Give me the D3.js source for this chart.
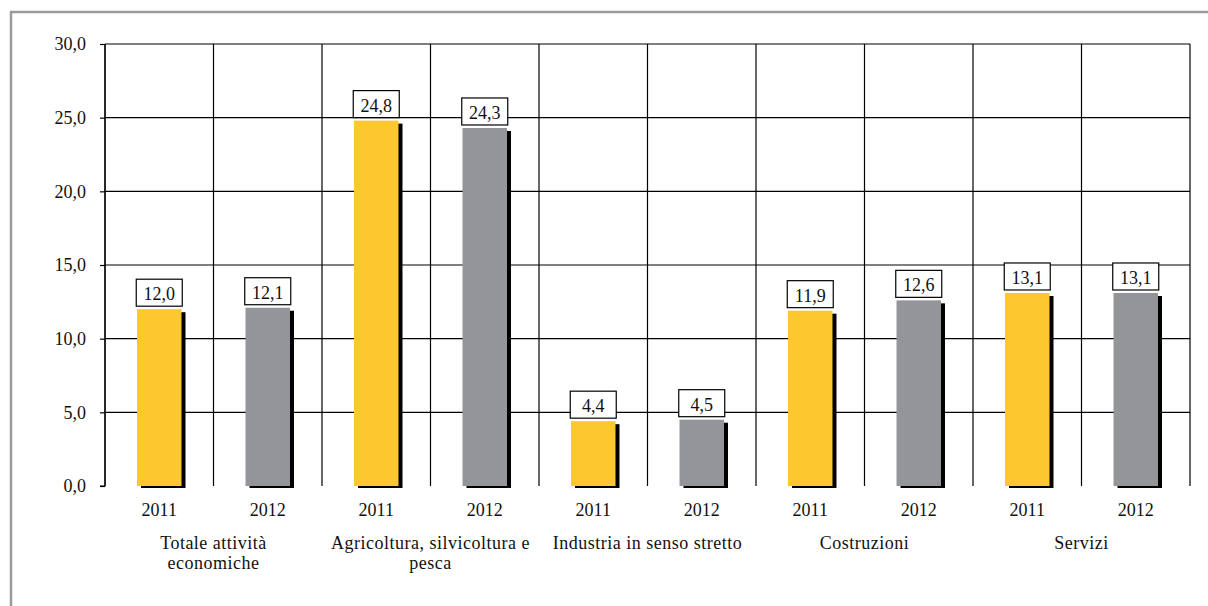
<!DOCTYPE html>
<html><head><meta charset="utf-8">
<script src="https://cdn.jsdelivr.net/npm/d3@7"></script>
<style>
body{margin:0;background:#fff;}
svg{display:block;}
</style></head>
<body><svg id="chart" width="1208" height="606"></svg>
<script>
const categories = [["Totale attività","economiche"],["Agricoltura, silvicoltura e","pesca"],["Industria in senso stretto"],["Costruzioni"],["Servizi"]];
const years = ["2011","2012"];
const values2011 = [12.0, 24.8, 4.4, 11.9, 13.1];
const values2012 = [12.1, 24.3, 4.5, 12.6, 13.1];
const yTicks = [0,5,10,15,20,25,30];
const colors = {"2011":"#FDC82F","2012":"#939598"};
const FONT = "'Liberation Serif', serif";

const svg = d3.select("#chart");
const m = {left:105, right:1190, top:44, bottom:486};

// outer frame
svg.append("path").attr("d","M11,606 V12 H1208").attr("fill","none").attr("stroke","#9a9a9a").attr("stroke-width",2.5);

const data = [];
categories.forEach((c,i)=>{
  years.forEach((yr,j)=>{
    data.push({cat:i, year:yr, v:(j===0?values2011:values2012)[i], key:i+"-"+yr});
  });
});

const x = d3.scaleBand().domain(data.map(d=>d.key)).range([m.left,m.right]).paddingInner(0).paddingOuter(0);
const y = d3.scaleLinear().domain([0,30]).range([m.bottom,m.top]);
const fmt = v => d3.format(".1f")(v).replace(".",",");

// horizontal grid
svg.append("g").selectAll("line").data(yTicks.filter(t=>t>0)).join("line")
  .attr("x1",m.left).attr("x2",m.right).attr("y1",d=>y(d)).attr("y2",d=>y(d))
  .attr("stroke","#000").attr("stroke-width",1.2);
// vertical grid at band boundaries
const bounds = data.map(d=>x(d.key)).concat([m.right]);
svg.append("g").selectAll("line").data(bounds).join("line")
  .attr("x1",d=>d).attr("x2",d=>d).attr("y1",m.top).attr("y2",m.bottom)
  .attr("stroke","#000").attr("stroke-width",1.2);

// y axis
const yAxis = d3.axisLeft(y).tickValues(yTicks).tickSize(5).tickPadding(14).tickFormat(fmt);
const ga = svg.append("g").attr("transform",`translate(${m.left},0)`).call(yAxis);
ga.select(".domain").attr("stroke","#000").attr("stroke-width",1.2).attr("d",`M-5,${m.bottom}H0V${m.top}`);
ga.selectAll(".tick line").attr("stroke","#000").attr("stroke-width",1.2);
ga.selectAll("text").style("font-size","18px").style("font-family",FONT).attr("fill","#111");

const bw = x.bandwidth()*0.41;
const sh = 4;
// shadows
svg.append("g").selectAll("rect").data(data).join("rect")
  .attr("x",d=>x(d.key)+x.bandwidth()/2-bw/2+sh).attr("y",d=>y(d.v)+3)
  .attr("width",bw).attr("height",d=>m.bottom-y(d.v)-1).attr("fill","#000");
// bars
svg.append("g").selectAll("rect").data(data).join("rect")
  .attr("x",d=>x(d.key)+x.bandwidth()/2-bw/2).attr("y",d=>y(d.v))
  .attr("width",bw).attr("height",d=>m.bottom-y(d.v)).attr("fill",d=>colors[d.year]);

// value labels
const lg = svg.append("g").selectAll("g").data(data).join("g")
  .attr("transform",d=>`translate(${x(d.key)+x.bandwidth()/2},${y(d.v)-3})`);
lg.append("rect").attr("x",-23).attr("y",-27).attr("width",46).attr("height",27)
  .attr("fill","#fff").attr("stroke","#000").attr("stroke-width",1.2);
lg.append("text").attr("text-anchor","middle").attr("y",-6)
  .style("font-size","18px").style("font-family",FONT).attr("fill","#111").text(d=>fmt(d.v));

// year labels
svg.append("g").selectAll("text").data(data).join("text")
  .attr("x",d=>x(d.key)+x.bandwidth()/2).attr("y",516).attr("text-anchor","middle")
  .style("font-size","18px").style("font-family",FONT).attr("fill","#111").text(d=>d.year);

// category labels
const cg = svg.append("g").selectAll("text").data(categories).join("text")
  .attr("x",(d,i)=>(x(i+"-"+years[0])+x(i+"-"+years[1])+x.bandwidth())/2).attr("y",549)
  .attr("text-anchor","middle").style("font-size","18px").style("font-family",FONT)
  .style("letter-spacing","0.5px").attr("fill","#111");
cg.selectAll("tspan").data(d=>d).join("tspan")
  .attr("x",function(){return this.parentNode.getAttribute("x");})
  .attr("dy",(d,i)=>i===0?0:20).text(d=>d);
</script></body></html>
